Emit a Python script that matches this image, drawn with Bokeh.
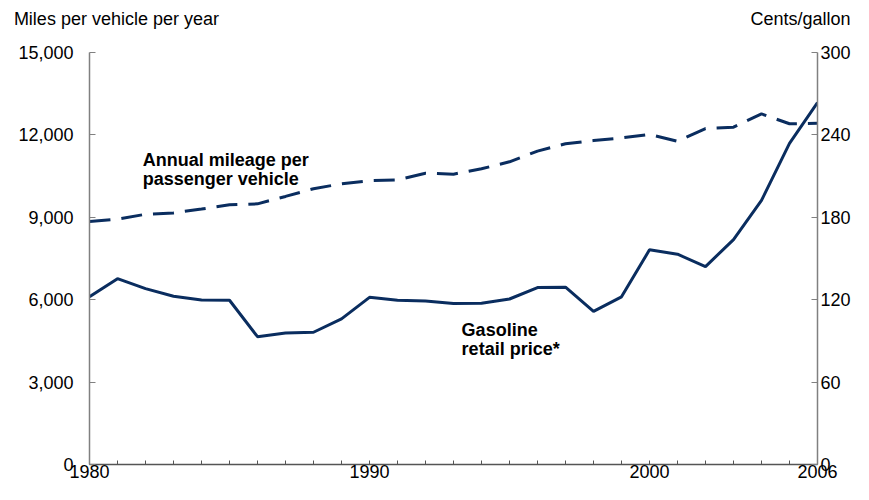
from bokeh.plotting import figure
from bokeh.models import Range1d, LinearAxis, FixedTicker, NumeralTickFormatter, Label
from bokeh.embed import file_html
from bokeh.resources import INLINE

years = list(range(1980, 2007))
mileage = [8850, 8930, 9110, 9160, 9300, 9455, 9490, 9760, 10040, 10220,
           10330, 10365, 10605, 10570, 10765, 11020, 11410, 11675, 11795, 11890,
           12015, 11770, 12230, 12280, 12765, 12405, 12425]
price = [122.1, 135.3, 128.1, 122.5, 119.8, 119.6, 93.1, 95.7, 96.3, 106.0,
         121.7, 119.6, 119.0, 117.3, 117.4, 120.5, 128.8, 129.1, 111.5, 122.1,
         156.3, 153.1, 144.1, 163.8, 192.3, 233.8, 263.5]
x_labels = [1980, 1990, 2000, 2006]
left_ticks = [0, 3000, 6000, 9000, 12000, 15000]
right_ticks = [0, 60, 120, 180, 240, 300]
left_title = "Miles per vehicle per year"
right_title = "Cents/gallon"

FONT = "Liberation Sans"
NAVY = "#0a2d5f"
FS = "18px"
W, H = 853, 484
BL, BR, BT, BB = 89, 34, 52, 20
FRAME_W = W - BL - BR

p = figure(width=W, height=H, x_range=Range1d(1980, 2006), y_range=Range1d(0, 15000),
           output_backend="svg", toolbar_location=None,
           min_border_left=BL, min_border_right=BR, min_border_top=BT, min_border_bottom=BB)
p.extra_y_ranges = {"price": Range1d(0, 300)}
p.extra_x_ranges = {"px": Range1d(0, FRAME_W)}
p.grid.visible = False
p.outline_line_color = None

# x axis
xa = p.xaxis[0]
xa.ticker = FixedTicker(ticks=years)
xa.major_label_overrides = {y: (str(y) if y in x_labels else "") for y in years}
xa.major_tick_in = 4
xa.major_tick_out = 0
xa.minor_tick_line_color = None
xa.axis_line_color = "#555555"
xa.axis_line_width = 1.5
xa.major_tick_line_color = "#555555"
xa.major_label_standoff = 0
xa.major_label_text_font = FONT
xa.major_label_text_font_size = FS
xa.major_label_text_color = "black"

# left axis
ya = p.yaxis[0]
ya.ticker = FixedTicker(ticks=left_ticks)
ya.formatter = NumeralTickFormatter(format="0,0")
ya.major_tick_in = 6
ya.major_tick_out = 0
ya.minor_tick_line_color = None
ya.axis_line_color = "#808080"
ya.axis_line_width = 1.5
ya.major_tick_line_color = "#808080"
ya.major_label_standoff = 16
ya.major_label_text_font = FONT
ya.major_label_text_font_size = FS
ya.major_label_text_color = "black"

# right axis
ra = LinearAxis(y_range_name="price", ticker=FixedTicker(ticks=right_ticks))
ra.major_tick_in = 6
ra.major_tick_out = 0
ra.minor_tick_line_color = None
ra.axis_line_color = "#808080"
ra.axis_line_width = 1.5
ra.major_tick_line_color = "#808080"
ra.major_label_standoff = 3
ra.major_label_text_font = FONT
ra.major_label_text_font_size = FS
ra.major_label_text_color = "black"
p.add_layout(ra, "right")

# unit titles above the frame, drawn as labels of an invisible top axis
t_left, t_right = 27, 713
ta = LinearAxis(x_range_name="px", ticker=FixedTicker(ticks=[t_left, t_right]))
ta.major_label_overrides = {t_left: left_title, t_right: right_title}
ta.axis_line_color = None
ta.major_tick_line_color = None
ta.minor_tick_line_color = None
ta.major_tick_in = 0
ta.major_tick_out = 0
ta.major_label_standoff = 24
ta.major_label_text_font = FONT
ta.major_label_text_font_size = FS
ta.major_label_text_color = "black"
p.add_layout(ta, "above")

p.line(years, mileage, line_color=NAVY, line_width=3, line_dash="21 11")
p.line(years, price, line_color=NAVY, line_width=3, y_range_name="price")

def lab(x, y, t):
    p.add_layout(Label(x=x, y=y, text=t, text_font=FONT, text_font_size=FS,
                       text_font_style="bold", text_color="black",
                       text_align="left", text_baseline="alphabetic"))

lab(1981.90, 11090, "Annual mileage per")
lab(1981.90, 10400, "passenger vehicle")
lab(1993.29, 4910, "Gasoline")
lab(1993.29, 4210, "retail price*")

open("out.html", "w").write(file_html(p, INLINE))
